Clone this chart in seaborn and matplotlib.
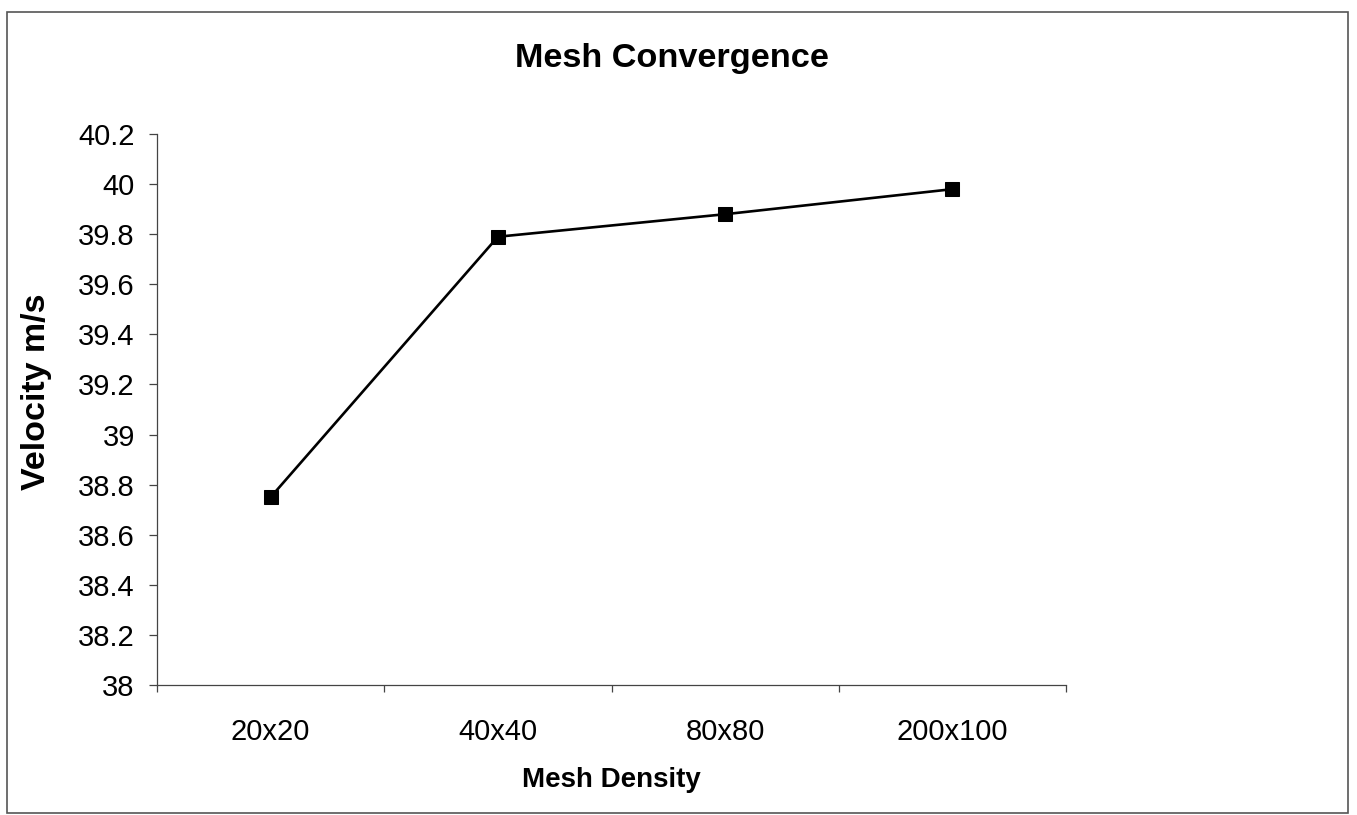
import matplotlib
matplotlib.use("Agg")
import matplotlib.pyplot as plt
import matplotlib.patches as mpatches
from matplotlib.ticker import FixedLocator, FuncFormatter
import numpy as np
import pandas as pd
import seaborn as sns

# Mesh convergence study data
mesh_sizes = ["20x20", "40x40", "80x80", "200x100"]
velocity = [38.75, 39.79, 39.88, 39.98]
y_ticks = [38.0, 38.2, 38.4, 38.6, 38.8, 39.0, 39.2, 39.4, 39.6, 39.8, 40.0, 40.2]

df = pd.DataFrame({"Mesh Density": mesh_sizes, "Velocity m/s": velocity})

sns.set_theme(style="white")
plt.rcParams["font.family"] = ["Liberation Sans", "DejaVu Sans"]
plt.rcParams["text.color"] = "black"

fig = plt.figure(figsize=(13.57, 8.15), dpi=100)
ax = fig.add_axes([0.1157, 0.1595, 0.6699, 0.676])

sns.lineplot(data=df, x="Mesh Density", y="Velocity m/s", ax=ax,
             color="black", linewidth=1.9, marker="s", markersize=9.5,
             markeredgecolor="black", markerfacecolor="black", sort=False)

ax.set_xlim(-0.5, len(mesh_sizes) - 0.5)
ax.set_ylim(38.0, 40.2)

# Category labels centred, tick marks at category boundaries
ax.set_xticks(range(len(mesh_sizes)))
ax.set_xticklabels(mesh_sizes)
ax.xaxis.set_minor_locator(FixedLocator(np.arange(-0.5, len(mesh_sizes), 1.0)))
ax.tick_params(axis="x", which="major", length=0, pad=23.5, labelsize=21, labelcolor="black")
ax.tick_params(axis="x", which="minor", bottom=True, length=5, width=0.9, color="#444444")

ax.yaxis.set_major_locator(FixedLocator(y_ticks))
ax.yaxis.set_major_formatter(FuncFormatter(lambda v, p: f"{v:g}"))
ax.tick_params(axis="y", which="major", left=True, length=6, width=0.9,
               color="#444444", pad=10, labelsize=21, labelcolor="black")

for side in ["top", "right"]:
    ax.spines[side].set_visible(False)
for side in ["left", "bottom"]:
    ax.spines[side].set_color("#444444")
    ax.spines[side].set_linewidth(0.9)

ax.set_xlabel("Mesh Density", fontsize=20, fontweight="bold", labelpad=15.5, color="black")
ax.set_ylabel("")
fig.text(37 / 1357, 1 - 392 / 815, "Velocity m/s", rotation=90, ha="center", va="center",
         fontsize=24.5, fontweight="bold", color="black")

fig.text(0.495, 0.928, "Mesh Convergence", ha="center", va="center",
         fontsize=24.7, fontweight="bold", color="black")

# Chart-area border
fig.patches.append(mpatches.Rectangle((7 / 1357, 2 / 815), 1341 / 1357, 801 / 815,
                                      transform=fig.transFigure, fill=False,
                                      edgecolor="#555555", linewidth=1.2))

fig.savefig("out.png", dpi=100, facecolor="white")
